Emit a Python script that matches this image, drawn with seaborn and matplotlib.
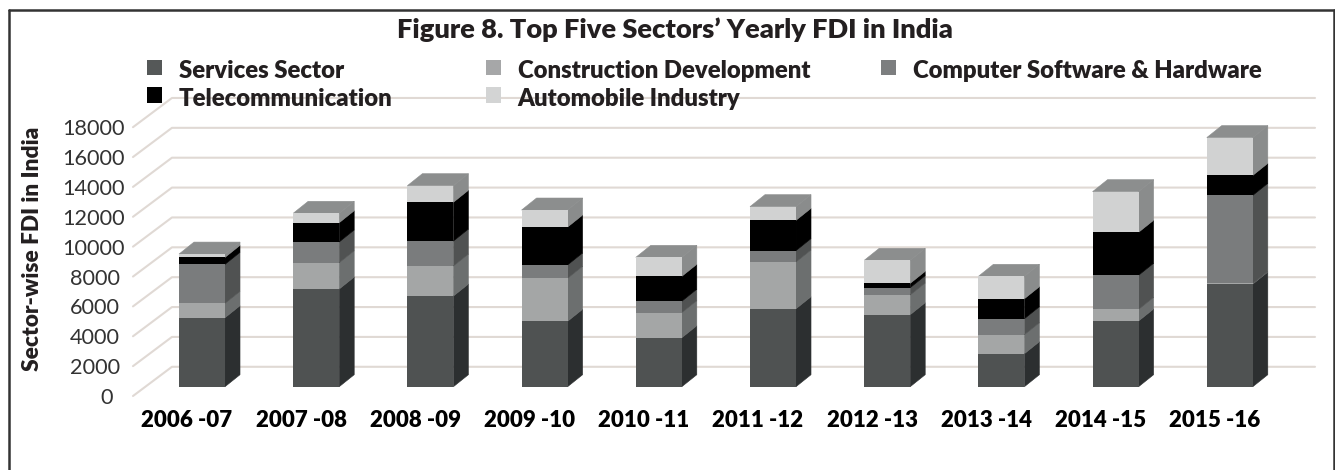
import matplotlib
matplotlib.use("Agg")
import matplotlib.pyplot as plt
from matplotlib.lines import Line2D
from matplotlib.patches import Patch, Polygon
import numpy as np
import seaborn as sns

years = ["2006 -07", "2007 -08", "2008 -09", "2009 -10", "2010 -11",
         "2011 -12", "2012 -13", "2013 -14", "2014 -15", "2015 -16"]
services = [4620, 6540, 6070, 4380, 3280, 5220, 4820, 2210, 4400, 6875]
construction = [960, 1760, 2010, 2880, 1680, 3130, 1320, 1270, 780, 45]
computer = [2610, 1390, 1670, 890, 760, 760, 490, 1070, 2280, 5890]
telecom = [470, 1290, 2600, 2540, 1670, 2030, 290, 1340, 2880, 1340]
automobile = [220, 630, 1110, 1140, 1270, 915, 1540, 1500, 2720, 2530]
y_ticks = list(range(0, 18001, 2000))

# (label, values, front face colour, side face colour, legend colour)
sectors = [
    ("Services Sector", services, "#4f5252", "#2c2f30", "#555858"),
    ("Construction Development", construction, "#a4a6a6", "#6c6f6f", "#a6a7a8"),
    ("Computer Software & Hardware", computer, "#7a7c7d", "#505252", "#7c7e7f"),
    ("Telecommunication", telecom, "#000000", "#000000", "#000000"),
    ("Automobile Industry", automobile, "#d1d2d2", "#8a8c8c", "#d3d4d4"),
]
TOP_FACE = "#8c8e8e"
GRID = "#e0d9d4"
INK = "#231f20"
FONT = "Lato"
BOLD = "heavy"

W, H = 1335, 470
PX_X = 114.2                 # pixels per category
PX_Y = 29.87 / 2000          # pixels per unit of FDI
BASE_PX = 386.7              # pixel row of zero on the bars' front plane
CENTER0_PX = 202.0           # pixel column of the first bar's centre
AX_L, AX_R, AX_T, AX_B = 133, 1315, 90, 396

BAR_DX = 15 / PX_X           # depth of a bar
BAR_DY = 12 / PX_Y
FLOOR_FRONT = (BASE_PX - 396.0) / PX_Y   # wall-floor front edge, in data units
WALL_BACK = (BASE_PX - 366.8) / PX_Y     # back wall zero, in data units
WALL_X = -0.263

sns.set_style("white")
plt.rcParams["font.family"] = [FONT, "DejaVu Sans"]

fig = plt.figure(figsize=(W / 100, H / 100), dpi=100, facecolor="white")
ax = fig.add_axes([AX_L / W, 1 - AX_B / H, (AX_R - AX_L) / W, (AX_B - AX_T) / H])
ax.patch.set_alpha(0)

# Stacked front faces
bottom = np.zeros(len(years))
stack = []
for name, values, front, side, _ in sectors:
    vals = np.array(values, dtype=float)
    sns.barplot(x=years, y=vals, bottom=bottom, color=front, saturation=1,
                width=0.403, linewidth=0, errorbar=None, ax=ax, zorder=3)
    stack.append((bottom.copy(), bottom + vals, side))
    bottom = bottom + vals

ax.set_xlim((AX_L - CENTER0_PX) / PX_X, (AX_R - CENTER0_PX) / PX_X)
ax.set_ylim(FLOOR_FRONT, (BASE_PX - AX_T) / PX_Y)

# Extruded side and top faces
half = 0.403 / 2
for low, high, side in stack:
    for i in range(len(years)):
        x1 = i + half
        ax.add_patch(Polygon(
            [(x1, low[i]), (x1 + BAR_DX, low[i] + BAR_DY),
             (x1 + BAR_DX, high[i] + BAR_DY), (x1, high[i])],
            closed=True, facecolor=side, edgecolor=side, lw=0.4, zorder=2.9))
for i, total in enumerate(bottom):
    x0, x1 = i - half, i + half
    ax.add_patch(Polygon(
        [(x0, total), (x1, total), (x1 + BAR_DX, total + BAR_DY),
         (x0 + BAR_DX, total + BAR_DY)],
        closed=True, facecolor=TOP_FACE, edgecolor=TOP_FACE, lw=0.4, zorder=2.9))

# Gridlines on the back wall and the slanted side wall
x_left, x_right = ax.get_xlim()
for v in y_ticks:
    ax.plot([x_left, WALL_X, x_right],
            [v + FLOOR_FRONT, v + WALL_BACK, v + WALL_BACK],
            color=GRID, lw=1.5, zorder=1, clip_on=False, solid_joinstyle="round")

# Axes and ticks
sns.despine(ax=ax, left=True, bottom=True)
ax.set_yticks([v + FLOOR_FRONT for v in y_ticks], [str(v) for v in y_ticks],
              fontsize=15.6, color="#333333")
ax.set_xticks(np.arange(len(years)) - 15 / PX_X, years, fontsize=16,
              fontweight=BOLD, color="#000000")
ax.tick_params(axis="both", length=0)
ax.tick_params(axis="x", pad=10)
for v, tick in zip(y_ticks, ax.yaxis.get_major_ticks()):
    gap_px = 20 if v == 0 else (13 if v < 10000 else 8)
    tick.set_pad(gap_px * 0.72)
ax.grid(False)

fig.text(33 / W, 1 - 248.5 / H, "Sector-wise FDI in India", rotation=90, ha="center",
         va="center", fontsize=16.3, fontweight=BOLD, color=INK)
fig.text(675 / W, 1 - 30 / H, "Figure 8. Top Five Sectors\u2019 Yearly FDI in India",
         ha="center", va="center", fontsize=19.6, fontweight=BOLD, color=INK)

# Legend columns sit at their own offsets
by_name = {s[0]: s[4] for s in sectors}
columns = [
    (147, ["Services Sector", "Telecommunication"]),
    (486, ["Construction Development", "Automobile Industry"]),
    (881, ["Computer Software & Hardware"]),
]
for x_px, names in columns:
    handles = [Patch(facecolor=by_name[n], edgecolor="none") for n in names]
    legend = fig.legend(handles, names, loc="upper left",
                        bbox_to_anchor=(x_px / W, 1 - 60.5 / H), frameon=False, borderpad=0,
                        borderaxespad=0, handlelength=0.62, handleheight=0.62,
                        handletextpad=0.7, labelspacing=0.22,
                        prop={"family": FONT, "weight": BOLD, "size": 17.2},
                        labelcolor=INK)
    # Swatches ride slightly above the text centre line
    for swatch in legend.get_patches():
        swatch.set_y(swatch.get_y() + 1.8)

# Frame open along the bottom edge
for xs, ys in [((8.5, 8.5), (470, 10)), ((8.5, 1333.5), (10, 10)), ((1333.5, 1333.5), (10, 470))]:
    fig.add_artist(Line2D([x / W for x in xs], [1 - y / H for y in ys],
                          color="#333333", lw=1.8, transform=fig.transFigure))

fig.savefig("out.png", dpi=100, facecolor="white")
